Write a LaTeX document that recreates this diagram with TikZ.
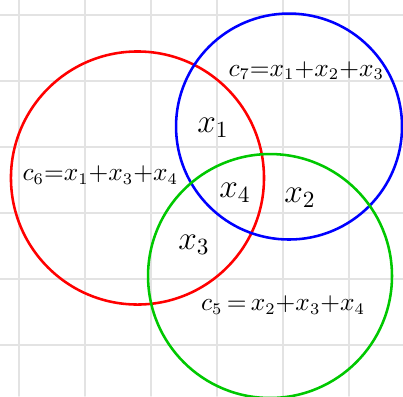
\documentclass[tikz,border=0pt]{standalone}
\usepackage{tikz}
\definecolor{vgreen}{RGB}{0,200,0}

\begin{document}
\begin{tikzpicture}[line width=1.1pt, line cap=round]

    % --- 1. Hintergrund: Karopapier ---
    \useasboundingbox (0,0) rectangle (6.106,6);
    \begin{scope}[gray!22, line width=0.7pt]
        \foreach \x in {0.288, 1.288, ..., 5.3} \draw (\x, 0) -- (\x, 6);
        \foreach \y in {0.773, 1.773, ..., 5.8} \draw (0, \y) -- (6.106, \y);
    \end{scope}

    % --- 2. Die drei Kreise ---
    \draw[red]    (2.083, 3.303) circle (1.917); % c6
    \draw[blue]   (4.379, 4.083) circle (1.712); % c7
    \draw[vgreen] (4.091, 1.818) circle (1.848); % c5

    % --- 3. Bits in den Schnittmengen ---
    \node[font=\Large] (xone)   at (3.227, 4.06)  {$x_1$};
    \node[font=\Large] (xfour)  at (3.56, 3.076)  {$x_4$};
    \node[font=\Large] (xtwo)   at (4.545, 3.0)   {$x_2$};
    \node[font=\Large] (xthree) at (2.94, 2.288)  {$x_3$};

    % --- 4. Pruefgleichungen (eng gesetzt) ---
    \begin{scope}[font=\fontsize{10.7}{13}\selectfont]
        \node (cseven) at (4.64, 4.93) {$c_7{=}x_1{+}x_2{+}x_3$};
        \node (csix)   at (1.52, 3.35) {$c_6{=}x_1{+}x_3{+}x_4$};
        \node (cfive)  at (4.29, 1.38) {$c_5\,{=}\,x_2{+}x_3{+}x_4$};
    \end{scope}

\end{tikzpicture}
\end{document}
